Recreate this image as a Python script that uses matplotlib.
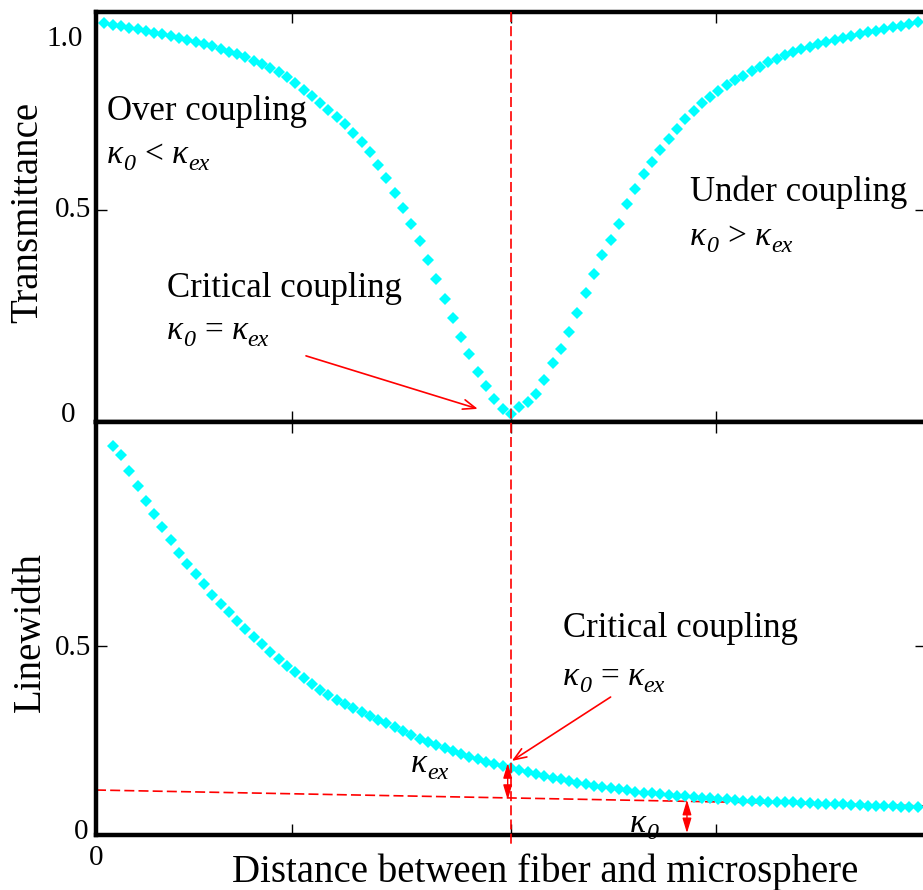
import matplotlib
matplotlib.use("Agg")
import matplotlib.pyplot as plt
from matplotlib.lines import Line2D
from matplotlib.transforms import blended_transform_factory

plt.rcParams['font.family'] = ['Liberation Serif', 'DejaVu Serif']

# transmittance (top panel), one value per marker
trans_x = list(range(1, 100))
trans_y = [0.941, 0.937, 0.933, 0.929, 0.926, 0.922, 0.918, 0.914, 0.910, 0.906,
           0.902, 0.897, 0.891, 0.886, 0.880, 0.873, 0.867, 0.860, 0.852, 0.844,
           0.836, 0.826, 0.813, 0.799, 0.784, 0.768, 0.753, 0.737, 0.720, 0.702,
           0.682, 0.660, 0.636, 0.607, 0.575, 0.540, 0.505, 0.467, 0.426, 0.382,
           0.337, 0.290, 0.245, 0.200, 0.160, 0.118, 0.085, 0.055, 0.030, 0.020,
           0.035, 0.048, 0.065, 0.098, 0.138, 0.172, 0.213, 0.258, 0.305, 0.350,
           0.395, 0.430, 0.468, 0.514, 0.550, 0.584, 0.614, 0.642, 0.668, 0.692,
           0.715, 0.734, 0.752, 0.767, 0.781, 0.794, 0.806, 0.817, 0.828, 0.838,
           0.848, 0.857, 0.865, 0.872, 0.879, 0.885, 0.891, 0.896, 0.901, 0.906,
           0.911, 0.915, 0.919, 0.923, 0.927, 0.931, 0.935, 0.939, 0.943]

# linewidth (bottom panel)
lw_x = list(range(2, 100))
lw_y = [1.030, 1.005, 0.962, 0.922, 0.883, 0.848, 0.814, 0.780, 0.747, 0.718,
        0.691, 0.664, 0.636, 0.610, 0.589, 0.567, 0.544, 0.524, 0.505, 0.485,
        0.466, 0.448, 0.431, 0.415, 0.400, 0.384, 0.370, 0.358, 0.346, 0.335,
        0.325, 0.315, 0.305, 0.295, 0.285, 0.275, 0.265, 0.255, 0.246, 0.237,
        0.229, 0.221, 0.214, 0.207, 0.200, 0.194, 0.188, 0.182, 0.177, 0.172,
        0.167, 0.162, 0.157, 0.152, 0.147, 0.142, 0.138, 0.134, 0.130, 0.127,
        0.124, 0.121, 0.118, 0.115, 0.112, 0.110, 0.108, 0.106, 0.104, 0.102,
        0.100, 0.098, 0.097, 0.095, 0.094, 0.092, 0.091, 0.090, 0.089, 0.088,
        0.087, 0.086, 0.086, 0.085, 0.084, 0.083, 0.082, 0.082, 0.081, 0.080,
        0.079, 0.078, 0.077, 0.077, 0.076, 0.075, 0.075, 0.074]

# intrinsic loss line kappa_0 (slightly sloped), endpoints
k0_x = [0, 100]
k0_y = [0.119, 0.077]

x_ticks = [23.6, 50, 74.7]
x_crit = 50

W, H = 923, 890
fig = plt.figure(figsize=(W / 100, H / 100), dpi=100)
ax1 = fig.add_axes([96 / W, 1 - 422 / H, 830 / W, 410 / H])
ax2 = fig.add_axes([96 / W, 1 - 835 / H, 830 / W, 413 / H])

cyan = '#00ffff'
red = '#ff0000'

ax1.plot(trans_x, trans_y, 'D', color=cyan, ms=6.6, mew=0, zorder=3)
ax2.plot(lw_x, lw_y, 'D', color=cyan, ms=6.6, mew=0, zorder=3)

ax1.set_xlim(0, 100)
ax1.set_ylim(0, 410 / 424)
ax2.set_xlim(0, 100)
ax2.set_ylim(0, 413 / 378)

for ax in (ax1, ax2):
    for s in ax.spines.values():
        s.set_linewidth(3.2)
        s.set_zorder(5)
    ax.set_xticks(x_ticks)
    ax.set_yticks([0.5])
    ax.tick_params(axis='x', direction='in', top=True, bottom=True, length=8,
                   width=1.0, labelbottom=False)
    ax.tick_params(axis='y', direction='in', left=True, right=True, length=8,
                   width=1.0, labelleft=False)

# red dashed guides: vertical line through both panels (x in data, y in figure)
vtrans = blended_transform_factory(ax2.transData, fig.transFigure)
fig.add_artist(Line2D([x_crit, x_crit], [1 - 12 / H, 1 - 847 / H],
                      transform=vtrans, color=red, lw=1.2, dashes=(6, 2.5),
                      zorder=4))
ax2.plot(k0_x, k0_y, color=red, lw=1.2, dashes=(6, 2.5), zorder=2)

# arrows
ax1.annotate('', xy=(46.0, 0.031), xytext=(25.3, 0.156),
             arrowprops=dict(arrowstyle='->,head_length=0.9,head_width=0.35',
                             color=red, lw=1.2, shrinkA=0, shrinkB=0))
ax2.annotate('', xy=(50.1, 0.196), xytext=(62.0, 0.365),
             arrowprops=dict(arrowstyle='->,head_length=0.9,head_width=0.35',
                             color=red, lw=1.2, shrinkA=0, shrinkB=0))
dbl = dict(arrowstyle='<|-|>,head_length=0.5,head_width=0.15', color=red,
           lw=1.0, shrinkA=0, shrinkB=0, mutation_scale=18)
ax2.annotate('', xy=(49.6, 0.190), xytext=(49.6, 0.093), arrowprops=dbl)
ax2.annotate('', xy=(71.2, 0.093), xytext=(71.2, 0.005), arrowprops=dbl)

renderer = fig.canvas.get_renderer()


def ftext(px, py, s, **kw):
    return fig.text(px / W, 1 - py / H, s, **kw)


def kappa_expr(px, py, sub1, rel=None, sub2=None, size=24, zorder=3):
    # kappa_sub1 [rel kappa_sub2], italic serif with subscripts
    sub = size * 0.72
    parts = [('κ', size, 'italic', 0, 0), (sub1, sub, 'italic', 7, 0)]
    if rel:
        parts += [(rel, size, 'normal', 0, 9), ('κ', size, 'italic', 0, 9),
                  (sub2, sub, 'italic', 7, 0)]
    x = px
    for s, fs, st, dy, gap in parts:
        x += gap
        t = ftext(x, py + dy, s, fontsize=fs, style=st, va='baseline',
                  zorder=zorder)
        x += t.get_window_extent(renderer).width


lab = 25
ftext(107, 120, 'Over coupling', fontsize=lab, va='baseline')
kappa_expr(107, 163, '0', '<', 'ex')
ftext(167, 297, 'Critical coupling', fontsize=lab, va='baseline')
kappa_expr(167, 339, '0', '=', 'ex')
ftext(690, 201, 'Under coupling', fontsize=lab, va='baseline')
kappa_expr(690, 245, '0', '>', 'ex')
ftext(563, 637, 'Critical coupling', fontsize=lab, va='baseline')
kappa_expr(563, 685, '0', '=', 'ex')
kappa_expr(411, 772, 'ex')
kappa_expr(630, 832, '0', zorder=1)

# tick labels
tk = 21
ftext(83, 39, '1.0', fontsize=tk, ha='right', va='center')
ftext(91, 210, '0.5', fontsize=tk, ha='right', va='center')
ftext(75, 415, '0', fontsize=tk, ha='right', va='center')
ftext(91, 648, '0.5', fontsize=tk, ha='right', va='center')
ftext(88, 832, '0', fontsize=tk, ha='right', va='center')
ftext(96, 858, '0', fontsize=tk, ha='center', va='center')

# axis titles
ftext(28, 212, 'Transmittance', fontsize=28, rotation=90, ha='center', va='center')
ftext(30, 632, 'Linewidth', fontsize=28, rotation=90, ha='center', va='center')
ftext(545, 882, 'Distance between fiber and microsphere', fontsize=28,
      ha='center', va='baseline')

fig.savefig('out.png', dpi=100)
